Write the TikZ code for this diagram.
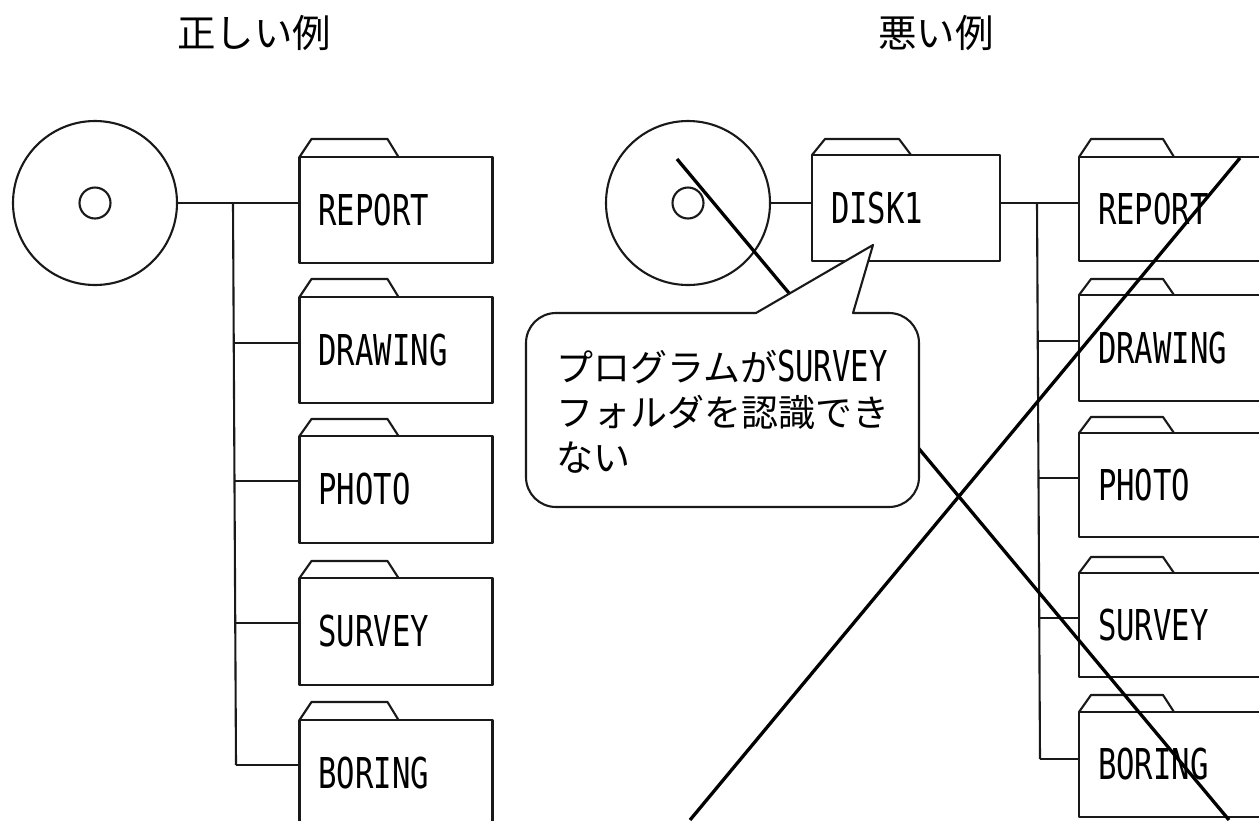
\documentclass[tikz,border=0pt]{standalone}
\usepackage{fontspec}
\newfontfamily\cjkfont{Noto Sans CJK JP}
\newfontfamily\latfont[FakeStretch=0.72]{DejaVu Sans Mono}
\newcommand{\myfolder}[7]{% name, left, top, height, tab height, tab flat length, label
  \node[folderbox,minimum height=#4pt,at={(#2,#3)}] (#1) {#7};
  \draw[line] (#1.north west) -- ++(12,-#5) -- ++(#6,0) -- ++(11,#5);
}
\tikzset{
  line/.style={draw=black!90,line width=2.1pt,line join=round},
  folderbox/.style={line,anchor=north west,minimum width=193pt,text width=155pt,
    inner xsep=19pt,inner ysep=0pt,outer sep=0pt,align=left,
    font=\fontsize{42.5}{46}\latfont},
  disc/.style={line,circle,inner sep=0pt,outer sep=0pt,minimum size=164pt},
  hole/.style={line,circle,inner sep=0pt,outer sep=0pt,minimum size=31pt},
  cross/.style={draw=black,line width=3.3pt},
  title/.style={font=\fontsize{38.5}{40}\cjkfont,inner sep=0pt},
  balloon/.style={line,fill=white},
  balloontext/.style={anchor=north west,inner sep=0pt,align=left,
    font=\fontsize{37}{45}\cjkfont}
}
\begin{document}
\begin{tikzpicture}[x=1pt,y=-1pt]
\useasboundingbox (0,0) rectangle (1259,820);
\clip (0,0) rectangle (1259,820);
\fill[white] (0,0) rectangle (1259,820);

\node[title] (t1) at (254,33) {正しい例};
\node[title] (t2) at (936,33) {悪い例};

% left tree
\node[disc] (d1) at (95,203) {};
\node[hole] (h1) at (95,203) {};
\myfolder{a1}{299.5}{157}{106}{18}{76}{REPORT}
\myfolder{a2}{299.5}{297}{106}{18}{76}{DRAWING}
\myfolder{a3}{299.5}{436}{107}{17}{76}{PHOTO}
\myfolder{a4}{299.5}{578}{107}{17}{76}{SURVEY}
\myfolder{a5}{299.5}{720}{107}{18}{76}{BORING}
\coordinate (j1) at (233,203);
\coordinate (j2) at (234,343);
\coordinate (j3) at (234,481);
\coordinate (j4) at (235,623);
\coordinate (j5) at (236,765);
\draw[line] (d1.east) -- (d1.east -| a1.west);
\draw[line] (j1) -- (j5);
\draw[line] (j2) -- (j2 -| a2.west);
\draw[line] (j3) -- (j3 -| a3.west);
\draw[line] (j4) -- (j4 -| a4.west);
\draw[line] (j5) -- (j5 -| a5.west);

% right tree
\node[disc] (d2) at (688,203) {};
\node[hole] (h2) at (688,203) {};
\node[folderbox,minimum width=188pt,text width=150pt,minimum height=106pt,at={(812,155)}] (disk) {DISK1};
\draw[line] (disk.north west) -- ++(13,-16) -- ++(74,0) -- ++(12,16);
\myfolder{b1}{1079}{157}{104}{18}{72}{REPORT}
\myfolder{b2}{1079}{295}{106}{16}{72}{DRAWING}
\myfolder{b3}{1079}{433}{104}{16}{72}{PHOTO}
\myfolder{b4}{1079}{573}{104}{16}{72}{SURVEY}
\myfolder{b5}{1079}{712}{105}{17}{72}{BORING}
\coordinate (k1) at (1037,203);
\coordinate (k2) at (1038,341);
\coordinate (k3) at (1038,478);
\coordinate (k4) at (1039,618);
\coordinate (k5) at (1040,759);
\draw[line] (d2.east) -- (d2.east -| disk.west);
\draw[line] (disk.east |- d2.east) -- (d2.east -| b1.west);
\draw[line] (k1) -- (k5);
\draw[line] (k2) -- (k2 -| b2.west);
\draw[line] (k3) -- (k3 -| b3.west);
\draw[line] (k4) -- (k4 -| b4.west);
\draw[line] (k5) -- (k5 -| b5.west);

% crossing-out lines
\coordinate (x1) at (1240,158);
\coordinate (x2) at (690,820);
\coordinate (x3) at (677,159);
\coordinate (x4) at (1229,820);
\draw[cross] (x1) -- (x2);
\draw[cross] (x3) -- (x4);

% balloon
\draw[balloon] (700,313) -- (756,313) -- (873,245) -- (853,313)
  [rounded corners=30pt] -- (919,313) -- (919,507) -- (526,507) -- (526,313) -- cycle;
\node[balloontext] (msg) at (556,350) {プログラムが{\latfont\fontsize{42.5}{45}\selectfont SURVEY}\\フォルダを認識でき\\ない};
\end{tikzpicture}
\end{document}
